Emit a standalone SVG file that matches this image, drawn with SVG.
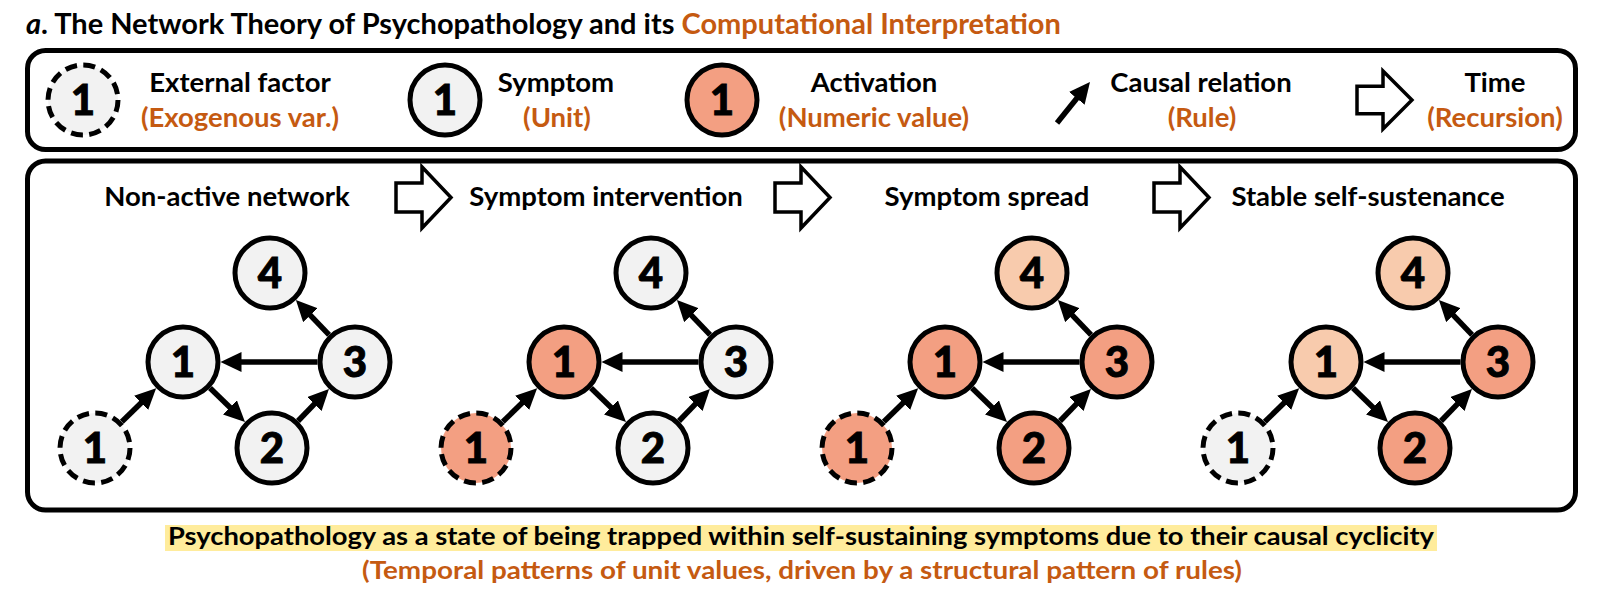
<svg xmlns="http://www.w3.org/2000/svg" xmlns:xlink="http://www.w3.org/1999/xlink" width="1600" height="596" viewBox="0 0 1600 596">
<style>
text{font-family:Lato,"Liberation Sans",sans-serif;font-weight:bold;fill:#000}
.t{font-size:29px}
.o{fill:#C55A11}
.lbl{font-size:27.5px;text-anchor:middle}
.num{font-size:42px;font-weight:900;text-anchor:middle;stroke:#000;stroke-width:0.9}
.box{fill:#fff;stroke:#000;stroke-width:5}
.nd{stroke:#000;stroke-width:5}
.ext{stroke-dasharray:12 6.33}
.g{fill:#F2F2F2}
.a{fill:#F39F82}
.p{fill:#F8CBAD}
.e{stroke:#000;stroke-width:5.5;fill:none;marker-end:url(#ah)}
.tarr{fill:#fff;stroke:#000;stroke-width:3.5;stroke-linejoin:miter}
</style>
<defs>
<marker id="ah" viewBox="0 0 21 20" markerWidth="21" markerHeight="20" refX="11" refY="10" orient="auto" markerUnits="userSpaceOnUse">
<path d="M0,0 L21,10 L0,20 z" fill="#000"/>
</marker>
<path id="timearrow" class="tarr" d="M0,-14.5 L26,-14.5 L26,-30.5 L55,0 L26,30.5 L26,14.5 L0,14.5 z"/>
</defs>
<rect width="1600" height="596" fill="#fff"/>

<g id="title">
<text class="t" x="26" y="34"><tspan font-style="italic">a</tspan>. The Network Theory of Psychopathology and its <tspan class="o">Computational Interpretation</tspan></text>
</g>

<g id="legend">
<rect class="box" x="27.5" y="50.5" width="1548" height="99" rx="18"/>
<g id="legend-external">
<circle class="nd ext g" cx="83" cy="100" r="35"/>
<text class="num" x="83" y="115">1</text>
<text class="lbl" x="240" y="92">External factor</text>
<text class="lbl o" x="240" y="127">(Exogenous var.)</text>
</g>
<g id="legend-symptom">
<circle class="nd g" cx="445" cy="100" r="35"/>
<text class="num" x="445" y="115">1</text>
<text class="lbl" x="556" y="92">Symptom</text>
<text class="lbl o" x="557" y="127">(Unit)</text>
</g>
<g id="legend-activation">
<circle class="nd a" cx="722" cy="100" r="35"/>
<text class="num" x="722" y="115">1</text>
<text class="lbl" x="874" y="92">Activation</text>
<text class="lbl o" x="874" y="127">(Numeric value)</text>
</g>
<g id="legend-causal">
<line class="e" x1="1057" y1="123" x2="1083.7" y2="89.8"/>
<text class="lbl" x="1201" y="92">Causal relation</text>
<text class="lbl o" x="1202" y="127">(Rule)</text>
</g>
<g id="legend-time">
<use xlink:href="#timearrow" href="#timearrow" transform="translate(1357,100) scale(1,0.95)"/>
<text class="lbl" x="1495" y="92">Time</text>
<text class="lbl o" x="1495" y="127">(Recursion)</text>
</g>
</g>

<g id="panel">
<rect class="box" x="27.5" y="161" width="1548" height="349" rx="18"/>
<text class="lbl" x="227" y="206">Non-active network</text>
<text class="lbl" x="606" y="206">Symptom intervention</text>
<text class="lbl" x="987" y="206">Symptom spread</text>
<text class="lbl" x="1368" y="206">Stable self-sustenance</text>
<use xlink:href="#timearrow" href="#timearrow" transform="translate(396,197.5)"/>
<use xlink:href="#timearrow" href="#timearrow" transform="translate(775,197.5)"/>
<use xlink:href="#timearrow" href="#timearrow" transform="translate(1154,197.5)"/>
</g>

<g id="connectors">
<g id="edges-p1">
<line class="e" x1="121.8" y1="421.8" x2="149.0" y2="395.2"/>
<line class="e" x1="210.0" y1="388.1" x2="237.8" y2="415.0"/>
<line class="e" x1="298.0" y1="421.0" x2="322.0" y2="396.2"/>
<line class="e" x1="317.5" y1="362" x2="230.5" y2="362"/>
<line class="e" x1="329.1" y1="334.9" x2="302.8" y2="307.3"/>
</g>
<g id="edges-p2" transform="translate(381,0)">
<line class="e" x1="121.8" y1="421.8" x2="149.0" y2="395.2"/>
<line class="e" x1="210.0" y1="388.1" x2="237.8" y2="415.0"/>
<line class="e" x1="298.0" y1="421.0" x2="322.0" y2="396.2"/>
<line class="e" x1="317.5" y1="362" x2="230.5" y2="362"/>
<line class="e" x1="329.1" y1="334.9" x2="302.8" y2="307.3"/>
</g>
<g id="edges-p3" transform="translate(762,0)">
<line class="e" x1="121.8" y1="421.8" x2="149.0" y2="395.2"/>
<line class="e" x1="210.0" y1="388.1" x2="237.8" y2="415.0"/>
<line class="e" x1="298.0" y1="421.0" x2="322.0" y2="396.2"/>
<line class="e" x1="317.5" y1="362" x2="230.5" y2="362"/>
<line class="e" x1="329.1" y1="334.9" x2="302.8" y2="307.3"/>
</g>
<g id="edges-p4" transform="translate(1143,0)">
<line class="e" x1="121.8" y1="421.8" x2="149.0" y2="395.2"/>
<line class="e" x1="210.0" y1="388.1" x2="237.8" y2="415.0"/>
<line class="e" x1="298.0" y1="421.0" x2="322.0" y2="396.2"/>
<line class="e" x1="317.5" y1="362" x2="230.5" y2="362"/>
<line class="e" x1="329.1" y1="334.9" x2="302.8" y2="307.3"/>
</g>
</g>

<g id="nodes-p1">
<g id="p1-ext1"><circle class="nd ext g" cx="95" cy="448" r="35"/><text class="num" x="95" y="463">1</text></g>
<g id="p1-n1"><circle class="nd g" cx="183" cy="362" r="35"/><text class="num" x="183" y="377">1</text></g>
<g id="p1-n2"><circle class="nd g" cx="272" cy="448" r="35"/><text class="num" x="272" y="463">2</text></g>
<g id="p1-n3"><circle class="nd g" cx="355" cy="362" r="35"/><text class="num" x="355" y="377">3</text></g>
<g id="p1-n4"><circle class="nd g" cx="270" cy="273" r="35"/><text class="num" x="270" y="288">4</text></g>
</g>
<g id="nodes-p2" transform="translate(381,0)">
<g id="p2-ext1"><circle class="nd ext a" cx="95" cy="448" r="35"/><text class="num" x="95" y="463">1</text></g>
<g id="p2-n1"><circle class="nd a" cx="183" cy="362" r="35"/><text class="num" x="183" y="377">1</text></g>
<g id="p2-n2"><circle class="nd g" cx="272" cy="448" r="35"/><text class="num" x="272" y="463">2</text></g>
<g id="p2-n3"><circle class="nd g" cx="355" cy="362" r="35"/><text class="num" x="355" y="377">3</text></g>
<g id="p2-n4"><circle class="nd g" cx="270" cy="273" r="35"/><text class="num" x="270" y="288">4</text></g>
</g>
<g id="nodes-p3" transform="translate(762,0)">
<g id="p3-ext1"><circle class="nd ext a" cx="95" cy="448" r="35"/><text class="num" x="95" y="463">1</text></g>
<g id="p3-n1"><circle class="nd a" cx="183" cy="362" r="35"/><text class="num" x="183" y="377">1</text></g>
<g id="p3-n2"><circle class="nd a" cx="272" cy="448" r="35"/><text class="num" x="272" y="463">2</text></g>
<g id="p3-n3"><circle class="nd a" cx="355" cy="362" r="35"/><text class="num" x="355" y="377">3</text></g>
<g id="p3-n4"><circle class="nd p" cx="270" cy="273" r="35"/><text class="num" x="270" y="288">4</text></g>
</g>
<g id="nodes-p4" transform="translate(1143,0)">
<g id="p4-ext1"><circle class="nd ext g" cx="95" cy="448" r="35"/><text class="num" x="95" y="463">1</text></g>
<g id="p4-n1"><circle class="nd p" cx="183" cy="362" r="35"/><text class="num" x="183" y="377">1</text></g>
<g id="p4-n2"><circle class="nd a" cx="272" cy="448" r="35"/><text class="num" x="272" y="463">2</text></g>
<g id="p4-n3"><circle class="nd a" cx="355" cy="362" r="35"/><text class="num" x="355" y="377">3</text></g>
<g id="p4-n4"><circle class="nd p" cx="270" cy="273" r="35"/><text class="num" x="270" y="288">4</text></g>
</g>

<g id="caption">
<rect x="165" y="525" width="1272" height="26" fill="#FFEC9C"/>
<text x="801" y="545" font-size="25" text-anchor="middle" textLength="1266" lengthAdjust="spacingAndGlyphs">Psychopathology as a state of being trapped within self-sustaining symptoms due to their causal cyclicity</text>
<text class="o" x="802" y="579" font-size="25" text-anchor="middle" textLength="880" lengthAdjust="spacingAndGlyphs">(Temporal patterns of unit values, driven by a structural pattern of rules)</text>
</g>
</svg>
